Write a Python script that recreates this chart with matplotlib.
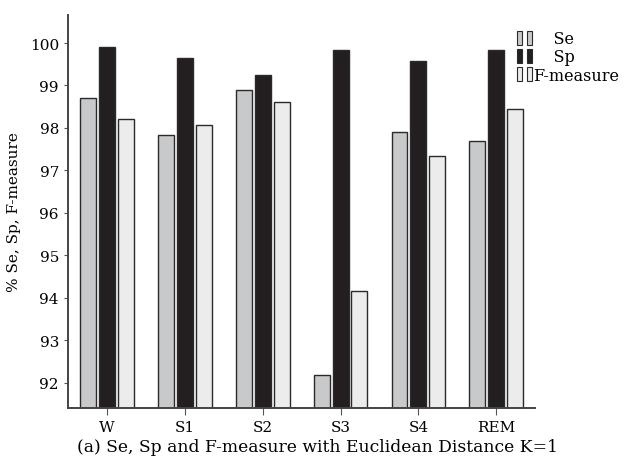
import matplotlib
matplotlib.use("Agg")
import matplotlib.pyplot as plt
import numpy as np
from matplotlib.patches import Rectangle
from matplotlib.legend_handler import HandlerTuple

plt.rcParams["font.family"] = ["DejaVu Serif"]

# data
groups = ["W", "S1", "S2", "S3", "S4", "REM"]
se = [98.71, 97.84, 98.90, 92.18, 97.91, 97.68]
sp = [99.90, 99.65, 99.24, 99.83, 99.58, 99.84]
fm = [98.20, 98.06, 98.60, 94.16, 97.33, 98.44]

series_names = ["Se", "Sp", "F-measure"]
series_colors = ["#c8c9cb", "#231f20", "#ececec"]

fig = plt.figure(figsize=(6.29, 4.64), dpi=100)
ax = fig.add_axes([0.108, 0.1185, 0.743, 0.847])

x = np.arange(len(groups))
width = 0.205
step = 0.243
base = 91.4

for i, (vals, col) in enumerate(zip([se, sp, fm], series_colors)):
    ax.bar(x + (i - 1) * step, np.array(vals) - base, width, bottom=base,
           color=col, edgecolor="#2a2a2a", linewidth=1.0)

ax.set_xlim(-0.5, 5.5)
ax.set_ylim(base, 100.66)
ax.set_xticks(x)
ax.set_xticklabels(groups, fontsize=11)
ax.set_yticks(range(92, 101))
ax.tick_params(axis="y", labelsize=11, length=3, color="#555555", direction="out")
ax.tick_params(axis="x", length=5, color="#555555", direction="out")
for s in ["top", "right"]:
    ax.spines[s].set_visible(False)
for s in ["left", "bottom"]:
    ax.spines[s].set_color("#444444")
    ax.spines[s].set_linewidth(1.4)

ax.set_ylabel("% Se, Sp, F-measure", fontsize=11, labelpad=6)

# legend with paired small rectangles
handles = []
for col in series_colors:
    p1 = Rectangle((0, 0), 1, 1, facecolor=col, edgecolor="#2a2a2a", linewidth=0.8)
    p2 = Rectangle((0, 0), 1, 1, facecolor=col, edgecolor="#2a2a2a", linewidth=0.8)
    handles.append((p1, p2))
leg = fig.legend(handles, ["    Se", "    Sp", "F-measure"],
                 handler_map={tuple: HandlerTuple(ndivide=None, pad=0.3)},
                 loc="upper left", bbox_to_anchor=(0.81, 0.95),
                 frameon=False, fontsize=11.5, handlelength=0.9, handleheight=1.0,
                 handletextpad=0.1, labelspacing=0.08, borderpad=0)

fig.text(0.505, 0.035, "(a) Se, Sp and F-measure with Euclidean Distance K=1",
         ha="center", va="center", fontsize=12.3)

fig.savefig("out.png", dpi=100)
